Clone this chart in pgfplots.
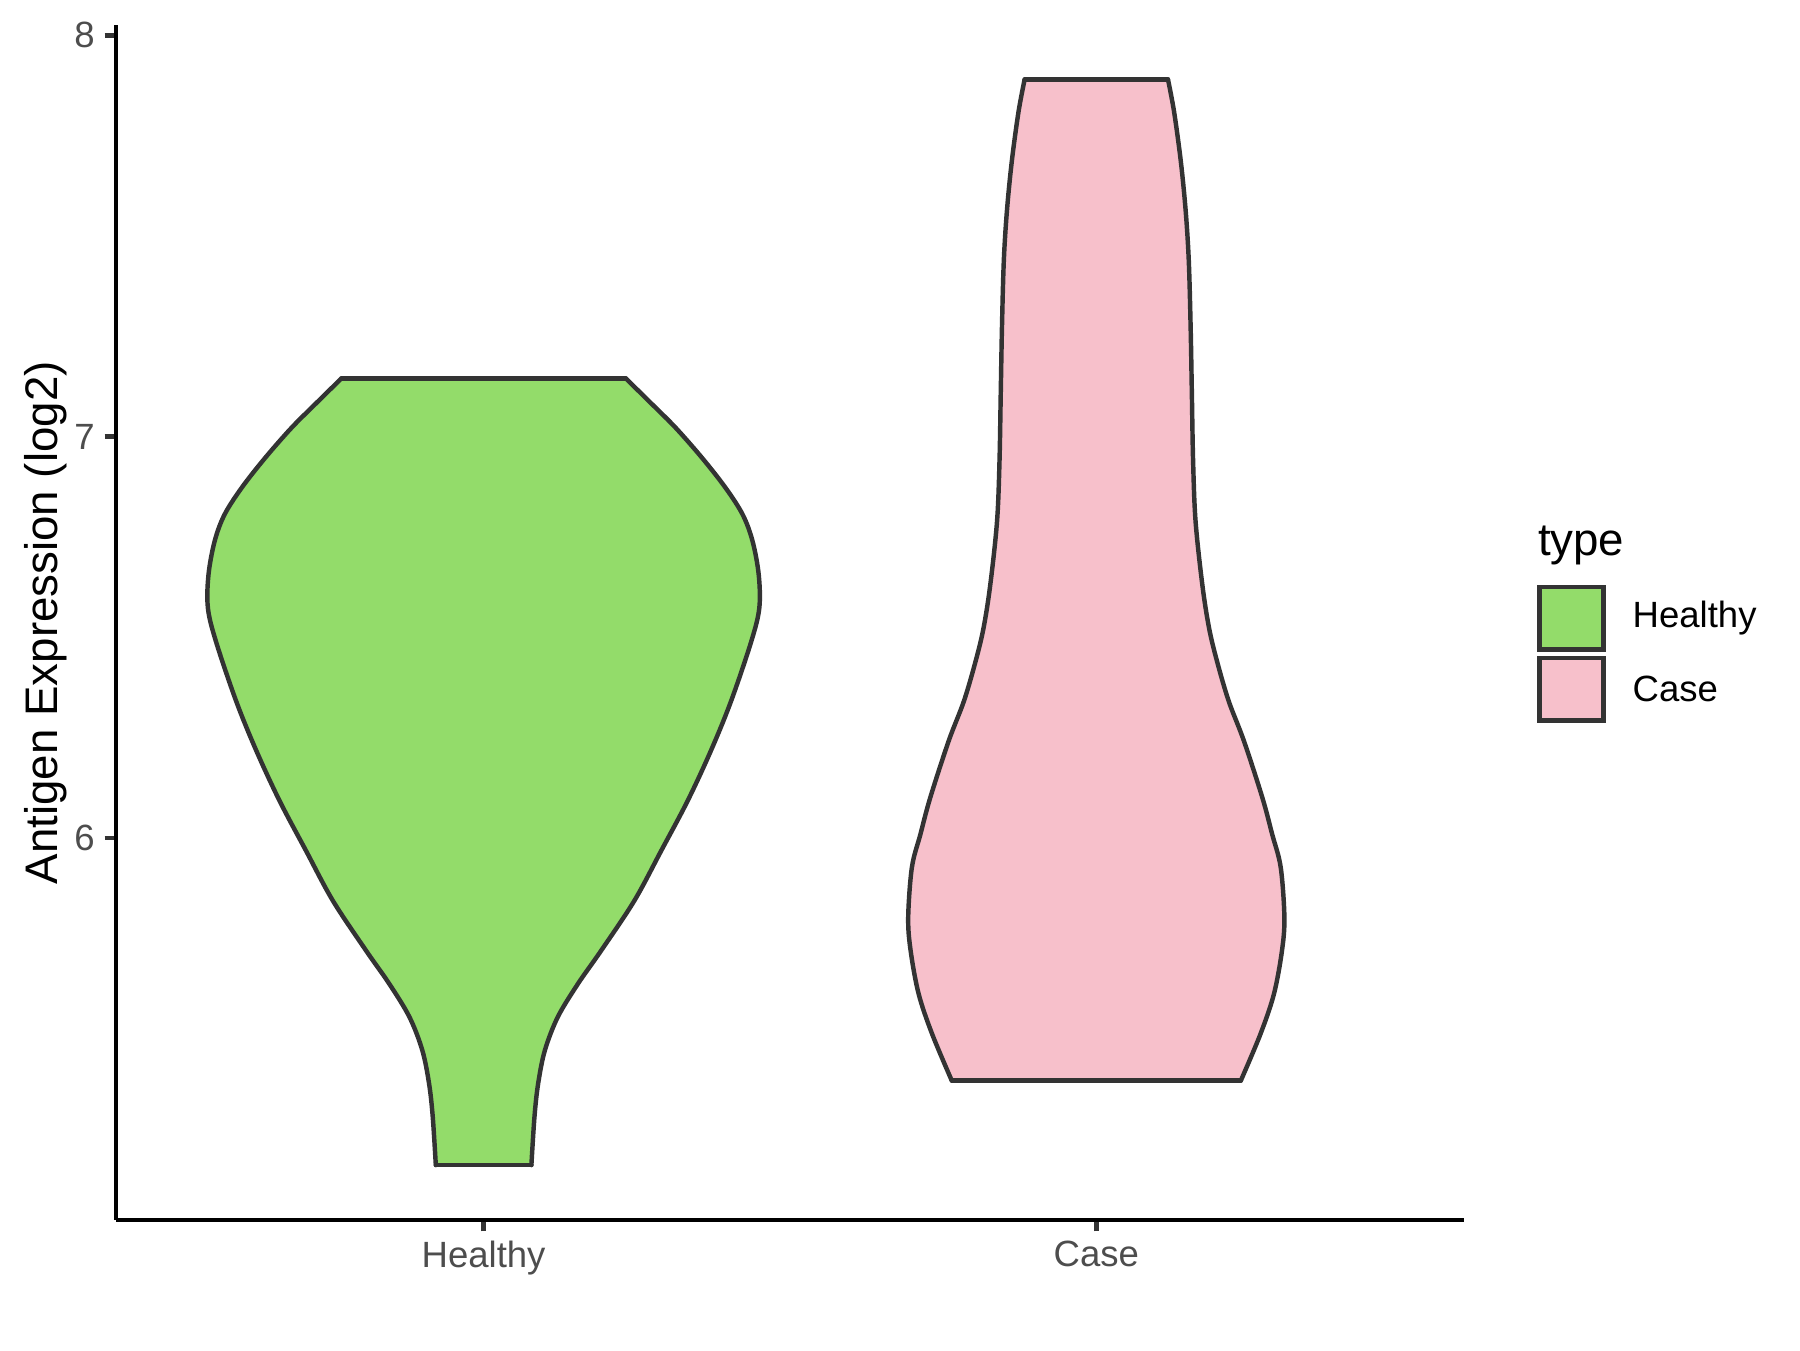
\documentclass[border=0pt]{standalone}
\usepackage{pgfplots}
\pgfplotsset{compat=1.18}
\usepgfplotslibrary{fillbetween}
\usepackage{fontspec}
\setmainfont{Liberation Sans}
\definecolor{hgreen}{HTML}{93DC6A}
\definecolor{cpink}{HTML}{F7C0CB}
\definecolor{g20}{HTML}{333333}
\definecolor{g30}{HTML}{4D4D4D}
\begin{document}
\begin{tikzpicture}
\begin{axis}[
  name=ax,
  at={(27.94pt,31.3pt)}, anchor=south west,
  scale only axis, width=324.7pt, height=287.9pt,
  xmin=0.4, xmax=2.6, ymin=5.047, ymax=8.026,
  axis x line*=bottom, axis y line*=left,
  axis line style={black, line width=1.07pt},
  xtick={1,2}, xticklabels={Healthy,Case},
  ytick={6,7,8},
  minor tick num=0,
  tick align=outside, major tick length=2.75pt,
  tick style={g20, line width=1.07pt},
  ticklabel style={font=\fontsize{8.8}{10}\selectfont, text=g30},
  /pgf/number format/assume math mode=true,
  yticklabel style={anchor=east, inner sep=0pt, xshift=-2.2pt},
  xticklabel style={anchor=north, inner sep=0pt, yshift=-2.2pt},
  outline/.style={draw=g20, line width=1.07pt, line cap=round, line join=round, mark=none},
]
% Healthy violin: right and left outlines (top to bottom)
\addplot[draw=none, name path=HR] coordinates {
(1.232,7.145)(1.276,7.079)(1.314,7.021)(1.357,6.946)(1.395,6.872)(1.423,6.805)(1.439,6.739)(1.449,6.656)(1.450,6.573)(1.437,6.490)(1.404,6.341)(1.371,6.217)(1.333,6.092)(1.290,5.968)(1.246,5.843)(1.192,5.719)(1.154,5.636)(1.121,5.553)(1.100,5.470)(1.089,5.387)(1.083,5.304)(1.078,5.184)
};
\addplot[draw=none, name path=HL] coordinates {
(0.768,7.145)(0.724,7.079)(0.686,7.021)(0.643,6.946)(0.605,6.872)(0.577,6.805)(0.561,6.739)(0.551,6.656)(0.550,6.573)(0.563,6.490)(0.596,6.341)(0.629,6.217)(0.667,6.092)(0.710,5.968)(0.754,5.843)(0.808,5.719)(0.846,5.636)(0.879,5.553)(0.900,5.470)(0.911,5.387)(0.917,5.304)(0.922,5.184)
};
\addplot[fill=hgreen, draw=none] fill between[of=HR and HL, reverse=true];
\addplot[outline, smooth, tension=0.55] coordinates {
(1.232,7.145)(1.276,7.079)(1.314,7.021)(1.357,6.946)(1.395,6.872)(1.423,6.805)(1.439,6.739)(1.449,6.656)(1.450,6.573)(1.437,6.490)(1.404,6.341)(1.371,6.217)(1.333,6.092)(1.290,5.968)(1.246,5.843)(1.192,5.719)(1.154,5.636)(1.121,5.553)(1.100,5.470)(1.089,5.387)(1.083,5.304)(1.078,5.184)
};
\addplot[outline, smooth, tension=0.55] coordinates {
(0.768,7.145)(0.724,7.079)(0.686,7.021)(0.643,6.946)(0.605,6.872)(0.577,6.805)(0.561,6.739)(0.551,6.656)(0.550,6.573)(0.563,6.490)(0.596,6.341)(0.629,6.217)(0.667,6.092)(0.710,5.968)(0.754,5.843)(0.808,5.719)(0.846,5.636)(0.879,5.553)(0.900,5.470)(0.911,5.387)(0.917,5.304)(0.922,5.184)
};
\addplot[outline] coordinates {(0.768,7.145)(1.232,7.145)};
\addplot[outline] coordinates {(0.922,5.184)(1.078,5.184)};
% Case violin
\addplot[draw=none, name path=CR] coordinates {
(2.117,7.890)(2.127,7.809)(2.138,7.685)(2.146,7.560)(2.151,7.436)(2.154,7.270)(2.156,7.104)(2.158,6.938)(2.162,6.789)(2.173,6.631)(2.184,6.523)(2.197,6.440)(2.216,6.341)(2.241,6.241)(2.271,6.100)(2.287,6.009)(2.301,5.926)(2.307,5.801)(2.303,5.718)(2.290,5.611)(2.268,5.511)(2.236,5.395)
};
\addplot[draw=none, name path=CL] coordinates {
(1.883,7.890)(1.873,7.809)(1.862,7.685)(1.854,7.560)(1.849,7.436)(1.846,7.270)(1.844,7.104)(1.842,6.938)(1.838,6.789)(1.827,6.631)(1.816,6.523)(1.803,6.440)(1.784,6.341)(1.759,6.241)(1.729,6.100)(1.713,6.009)(1.699,5.926)(1.693,5.801)(1.697,5.718)(1.710,5.611)(1.732,5.511)(1.764,5.395)
};
\addplot[fill=cpink, draw=none] fill between[of=CR and CL, reverse=true];
\addplot[outline, smooth, tension=0.55] coordinates {
(2.117,7.890)(2.127,7.809)(2.138,7.685)(2.146,7.560)(2.151,7.436)(2.154,7.270)(2.156,7.104)(2.158,6.938)(2.162,6.789)(2.173,6.631)(2.184,6.523)(2.197,6.440)(2.216,6.341)(2.241,6.241)(2.271,6.100)(2.287,6.009)(2.301,5.926)(2.307,5.801)(2.303,5.718)(2.290,5.611)(2.268,5.511)(2.236,5.395)
};
\addplot[outline, smooth, tension=0.55] coordinates {
(1.883,7.890)(1.873,7.809)(1.862,7.685)(1.854,7.560)(1.849,7.436)(1.846,7.270)(1.844,7.104)(1.842,6.938)(1.838,6.789)(1.827,6.631)(1.816,6.523)(1.803,6.440)(1.784,6.341)(1.759,6.241)(1.729,6.100)(1.713,6.009)(1.699,5.926)(1.693,5.801)(1.697,5.718)(1.710,5.611)(1.732,5.511)(1.764,5.395)
};
\addplot[outline] coordinates {(1.883,7.890)(2.117,7.890)};
\addplot[outline] coordinates {(1.764,5.395)(2.236,5.395)};
\end{axis}
\node[rotate=90, anchor=base, inner sep=0pt] at (13.8pt,175.2pt) {\fontsize{11}{13}\selectfont Antigen Expression (log2)};
\node[anchor=base west, inner sep=0pt] at (370.3pt,191.5pt) {\fontsize{11}{13}\selectfont type};
\draw[fill=hgreen, draw=g20, line width=1.07pt] (370.8pt,168.75pt) rectangle (386.3pt,183.75pt);
\draw[fill=cpink, draw=g20, line width=1.07pt] (370.8pt,151.64pt) rectangle (386.3pt,166.72pt);
\node[anchor=west, inner sep=0pt] at (393.1pt,176.2pt) {\fontsize{8.8}{10}\selectfont Healthy};
\node[anchor=west, inner sep=0pt] at (393.1pt,159.2pt) {\fontsize{8.8}{10}\selectfont Case};
\path (0pt,0pt) rectangle (433.6pt,325.2pt);
\end{tikzpicture}
\end{document}
